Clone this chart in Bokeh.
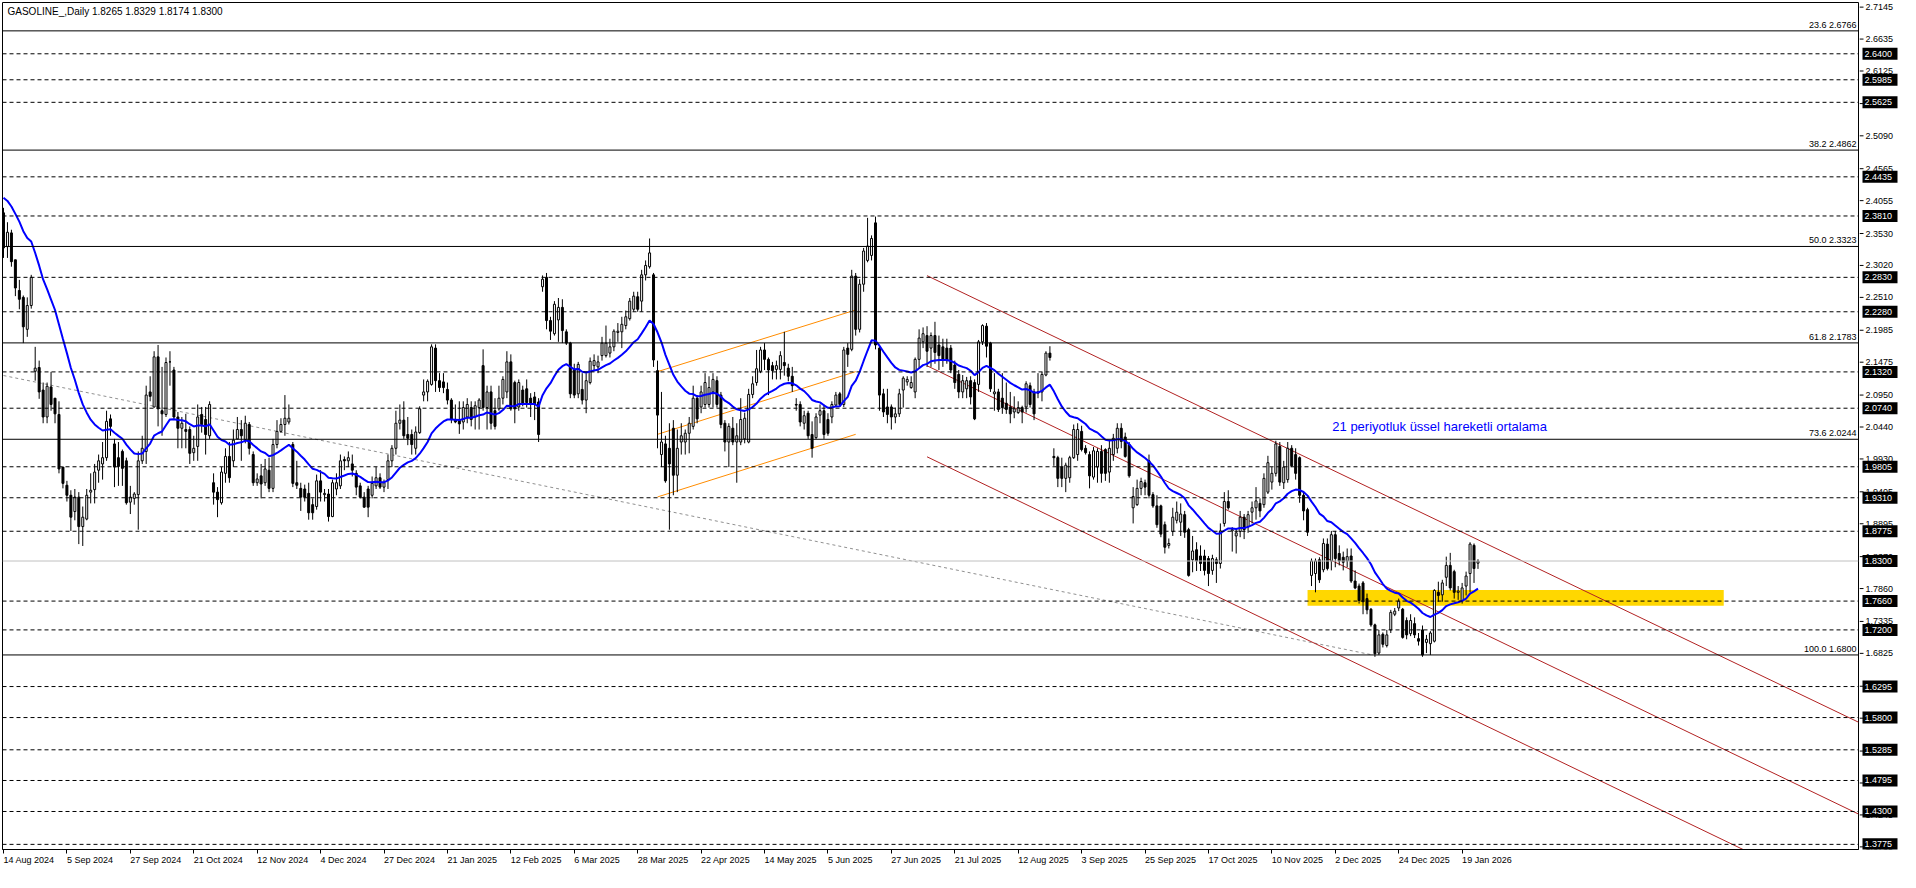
import numpy as np
from bokeh.plotting import figure
from bokeh.layouts import row
from bokeh.models import (ColumnDataSource, Range1d, FixedTicker, Span, Label)
from bokeh.core.properties import value
from bokeh.embed import file_html
from bokeh.resources import INLINE

# ---------------- data ----------------
opens = [
    2.386, 2.332, 2.354, 2.311, 2.262, 2.251, 2.200, 2.238, 2.133, 2.139,
    2.103, 2.060, 2.108, 2.090, 2.064, 1.980, 1.951, 1.935, 1.909, 1.932,
    1.885, 1.897, 1.940, 1.944, 1.975, 1.985, 1.995, 2.057, 2.017, 1.995,
    2.005, 1.990, 1.924, 1.930, 1.936, 1.990, 2.005, 2.100, 2.076, 2.156,
    2.070, 2.064, 2.148, 2.135, 2.060, 2.042, 2.040, 2.040, 2.003, 2.013,
    2.064, 2.056, 2.030, 1.955, 1.940, 1.923, 1.970, 1.997, 1.990, 2.025,
    2.040, 2.024, 2.048, 2.000, 1.955, 1.966, 1.955, 1.975, 1.946, 2.016,
    2.037, 2.048, 2.052, 2.016, 1.955, 1.946, 1.945, 1.938, 1.920, 1.917,
    1.958, 1.936, 1.937, 1.901, 1.945, 1.950, 1.992, 1.990, 1.985, 1.970,
    1.950, 1.932, 1.945, 1.935, 1.950, 1.963, 1.948, 1.960, 1.990, 2.010,
    2.050, 2.055, 2.032, 2.032, 2.010, 2.035, 2.095, 2.100, 2.112, 2.170,
    2.118, 2.116, 2.104, 2.087, 2.056, 2.056, 2.052, 2.060, 2.075, 2.060,
    2.075, 2.142, 2.075, 2.100, 2.070, 2.073, 2.090, 2.100, 2.148, 2.115,
    2.076, 2.103, 2.105, 2.090, 2.092, 2.084, 2.268, 2.283, 2.214, 2.193,
    2.215, 2.235, 2.196, 2.178, 2.135, 2.097, 2.104, 2.087, 2.115, 2.142,
    2.140, 2.158, 2.158, 2.162, 2.172, 2.195, 2.196, 2.206, 2.217, 2.232,
    2.252, 2.245, 2.287, 2.300, 2.287, 2.134, 2.000, 2.017, 2.010, 2.042,
    1.967, 2.020, 2.020, 2.034, 2.045, 2.090, 2.076, 2.080, 2.080, 2.100,
    2.118, 2.095, 2.050, 2.020, 2.042, 2.020, 2.020, 2.025, 2.020, 2.096,
    2.115, 2.133, 2.167, 2.152, 2.142, 2.136, 2.136, 2.147, 2.138, 2.125,
    2.080, 2.080, 2.050, 2.066, 2.032, 2.027, 2.063, 2.070, 2.056, 2.060,
    2.079, 2.097, 2.080, 2.170, 2.168, 2.285, 2.200, 2.272, 2.310, 2.318,
    2.370, 2.170, 2.097, 2.076, 2.076, 2.060, 2.065, 2.103, 2.116, 2.107,
    2.100, 2.152, 2.180, 2.190, 2.170, 2.190, 2.175, 2.172, 2.170, 2.170,
    2.143, 2.128, 2.100, 2.105, 2.118, 2.115, 2.112, 2.180, 2.205, 2.178,
    2.097, 2.100, 2.090, 2.082, 2.076, 2.068, 2.067, 2.075, 2.076, 2.110,
    2.100, 2.098, 2.100, 2.127, 2.162, 1.997, 1.995, 1.980, 1.962, 1.963,
    1.995, 2.000, 2.037, 2.010, 2.000, 1.964, 1.980, 2.005, 2.008, 1.972,
    2.000, 2.010, 2.042, 2.028, 2.016, 1.915, 1.920, 1.946, 1.955, 1.990,
    1.936, 1.918, 1.918, 1.888, 1.855, 1.877, 1.895, 1.892, 1.904, 1.880,
    1.832, 1.848, 1.838, 1.838, 1.834, 1.815, 1.832, 1.826, 1.890, 1.925,
    1.878, 1.870, 1.877, 1.900, 1.885, 1.908, 1.915, 1.922, 1.920, 1.940,
    1.956, 1.970, 2.013, 1.955, 1.960, 2.010, 2.000, 1.995, 1.935, 1.912,
    1.807, 1.810, 1.832, 1.816, 1.857, 1.830, 1.872, 1.842, 1.836, 1.830,
    1.838, 1.798, 1.790, 1.795, 1.770, 1.753, 1.728, 1.683, 1.713, 1.695,
    1.720, 1.745, 1.755, 1.753, 1.735, 1.714, 1.730, 1.706, 1.720, 1.700,
    1.698, 1.702, 1.780, 1.776, 1.804, 1.823, 1.813, 1.780, 1.766, 1.790,
    1.810, 1.855, 1.8265]

highs = [
    2.394, 2.371, 2.359, 2.311, 2.279, 2.254, 2.251, 2.287, 2.172, 2.150,
    2.115, 2.115, 2.132, 2.090, 2.085, 1.980, 1.958, 1.943, 1.945, 1.940,
    1.917, 1.945, 1.970, 1.985, 2.000, 2.020, 2.070, 2.064, 2.025, 2.020,
    2.008, 1.995, 1.950, 1.940, 2.005, 2.030, 2.110, 2.125, 2.165, 2.175,
    2.140, 2.155, 2.165, 2.140, 2.068, 2.060, 2.065, 2.045, 2.030, 2.080,
    2.076, 2.076, 2.085, 1.970, 1.948, 1.980, 2.010, 2.020, 2.040, 2.060,
    2.055, 2.062, 2.052, 2.005, 1.970, 1.985, 1.993, 1.995, 2.025, 2.055,
    2.058, 2.095, 2.080, 2.020, 1.990, 1.955, 1.952, 1.955, 1.930, 1.968,
    1.975, 1.945, 1.945, 1.960, 1.970, 2.000, 1.997, 2.005, 2.000, 1.975,
    1.955, 1.940, 1.950, 1.965, 1.980, 1.970, 1.960, 2.000, 2.015, 2.070,
    2.080, 2.085, 2.060, 2.040, 2.045, 2.077, 2.120, 2.120, 2.176, 2.176,
    2.130, 2.130, 2.115, 2.090, 2.080, 2.085, 2.085, 2.090, 2.085, 2.085,
    2.090, 2.168, 2.110, 2.110, 2.090, 2.110, 2.125, 2.165, 2.160, 2.118,
    2.120, 2.110, 2.120, 2.098, 2.100, 2.090, 2.286, 2.290, 2.220, 2.245,
    2.250, 2.248, 2.200, 2.180, 2.145, 2.148, 2.130, 2.130, 2.155, 2.160,
    2.158, 2.188, 2.206, 2.185, 2.200, 2.210, 2.220, 2.230, 2.250, 2.260,
    2.260, 2.295, 2.310, 2.345, 2.290, 2.150, 2.100, 2.030, 2.050, 2.055,
    2.040, 2.050, 2.040, 2.060, 2.110, 2.095, 2.110, 2.130, 2.125, 2.130,
    2.125, 2.100, 2.055, 2.050, 2.060, 2.050, 2.090, 2.067, 2.105, 2.125,
    2.167, 2.172, 2.178, 2.155, 2.148, 2.150, 2.165, 2.196, 2.145, 2.140,
    2.090, 2.085, 2.070, 2.070, 2.053, 2.066, 2.080, 2.080, 2.066, 2.085,
    2.100, 2.100, 2.172, 2.178, 2.295, 2.290, 2.280, 2.330, 2.378, 2.350,
    2.380, 2.175, 2.105, 2.105, 2.080, 2.075, 2.105, 2.125, 2.125, 2.125,
    2.155, 2.200, 2.203, 2.205, 2.195, 2.212, 2.190, 2.185, 2.185, 2.175,
    2.150, 2.135, 2.127, 2.124, 2.125, 2.120, 2.183, 2.208, 2.210, 2.180,
    2.130, 2.105, 2.130, 2.115, 2.100, 2.093, 2.085, 2.078, 2.117, 2.115,
    2.105, 2.130, 2.132, 2.165, 2.173, 2.010, 1.998, 1.995, 1.987, 1.998,
    2.048, 2.050, 2.046, 2.015, 2.005, 2.012, 2.010, 2.015, 2.010, 2.022,
    2.033, 2.050, 2.050, 2.035, 2.020, 1.948, 1.960, 1.963, 1.960, 2.000,
    1.940, 1.935, 1.920, 1.893, 1.866, 1.915, 1.925, 1.922, 1.910, 1.883,
    1.870, 1.860, 1.855, 1.848, 1.838, 1.840, 1.836, 1.890, 1.940, 1.943,
    1.884, 1.882, 1.910, 1.905, 1.910, 1.925, 1.948, 1.930, 1.970, 1.998,
    1.980, 2.022, 2.020, 1.990, 2.020, 2.015, 2.010, 1.997, 1.940, 1.915,
    1.834, 1.834, 1.836, 1.866, 1.866, 1.878, 1.878, 1.855, 1.845, 1.850,
    1.850, 1.815, 1.794, 1.798, 1.778, 1.755, 1.730, 1.720, 1.716, 1.720,
    1.752, 1.755, 1.770, 1.755, 1.740, 1.745, 1.740, 1.715, 1.727, 1.712,
    1.718, 1.785, 1.797, 1.800, 1.837, 1.843, 1.816, 1.790, 1.795, 1.813,
    1.860, 1.858, 1.8329]

lows = [
    2.314, 2.314, 2.300, 2.253, 2.232, 2.178, 2.188, 2.233, 2.118, 2.089,
    2.050, 2.050, 2.070, 2.050, 1.970, 1.946, 1.925, 1.878, 1.895, 1.857,
    1.854, 1.895, 1.922, 1.922, 1.955, 1.960, 1.990, 2.030, 1.948, 1.950,
    1.950, 1.920, 1.905, 1.920, 1.880, 1.985, 1.985, 2.085, 2.075, 2.045,
    2.030, 2.060, 2.110, 2.055, 2.010, 2.010, 2.010, 1.985, 1.990, 1.990,
    2.035, 2.000, 2.025, 1.920, 1.900, 1.920, 1.955, 1.955, 1.980, 2.024,
    1.990, 2.018, 2.000, 1.950, 1.950, 1.930, 1.950, 1.940, 1.940, 2.010,
    2.035, 2.030, 2.048, 1.948, 1.945, 1.910, 1.925, 1.896, 1.896, 1.912,
    1.925, 1.925, 1.893, 1.900, 1.935, 1.945, 1.975, 1.980, 1.965, 1.935,
    1.930, 1.915, 1.900, 1.930, 1.945, 1.945, 1.940, 1.945, 1.980, 2.000,
    2.040, 2.025, 2.015, 2.000, 2.000, 2.033, 2.085, 2.085, 2.110, 2.100,
    2.100, 2.098, 2.080, 2.050, 2.050, 2.033, 2.040, 2.050, 2.045, 2.040,
    2.040, 2.070, 2.040, 2.040, 2.040, 2.070, 2.080, 2.090, 2.070, 2.050,
    2.070, 2.077, 2.075, 2.060, 2.055, 2.020, 2.260, 2.200, 2.183, 2.190,
    2.180, 2.178, 2.175, 2.090, 2.090, 2.090, 2.080, 2.066, 2.112, 2.135,
    2.130, 2.150, 2.155, 2.155, 2.165, 2.180, 2.170, 2.200, 2.214, 2.228,
    2.228, 2.228, 2.278, 2.297, 2.140, 2.010, 1.980, 1.955, 1.880, 1.935,
    1.940, 2.000, 2.000, 2.002, 2.040, 2.050, 2.066, 2.075, 2.075, 2.075,
    2.075, 2.042, 2.005, 1.980, 2.015, 1.955, 2.015, 2.018, 2.018, 2.090,
    2.110, 2.130, 2.135, 2.095, 2.120, 2.120, 2.120, 2.126, 2.117, 2.100,
    2.070, 2.045, 2.040, 2.025, 1.995, 2.025, 2.050, 2.025, 2.030, 2.050,
    2.076, 2.076, 2.076, 2.140, 2.165, 2.190, 2.195, 2.260, 2.307, 2.310,
    2.168, 2.070, 2.060, 2.050, 2.040, 2.050, 2.060, 2.075, 2.110, 2.105,
    2.090, 2.137, 2.170, 2.140, 2.140, 2.145, 2.135, 2.140, 2.145, 2.130,
    2.105, 2.090, 2.090, 2.090, 2.080, 2.055, 2.100, 2.175, 2.155, 2.100,
    2.070, 2.068, 2.065, 2.065, 2.050, 2.058, 2.065, 2.050, 2.067, 2.075,
    2.055, 2.090, 2.085, 2.125, 2.150, 1.982, 1.948, 1.948, 1.940, 1.955,
    1.993, 1.990, 2.005, 2.000, 1.946, 1.960, 1.955, 1.955, 1.958, 1.955,
    1.990, 2.002, 2.010, 1.995, 1.963, 1.890, 1.918, 1.935, 1.935, 1.930,
    1.915, 1.883, 1.868, 1.842, 1.850, 1.870, 1.890, 1.870, 1.867, 1.805,
    1.812, 1.814, 1.814, 1.807, 1.790, 1.808, 1.795, 1.818, 1.885, 1.912,
    1.845, 1.842, 1.868, 1.865, 1.875, 1.890, 1.896, 1.900, 1.915, 1.937,
    1.944, 1.965, 1.950, 1.945, 1.955, 1.980, 1.960, 1.923, 1.895, 1.870,
    1.790, 1.780, 1.795, 1.812, 1.815, 1.815, 1.820, 1.823, 1.815, 1.820,
    1.795, 1.785, 1.762, 1.745, 1.745, 1.725, 1.677, 1.680, 1.692, 1.692,
    1.715, 1.742, 1.750, 1.706, 1.705, 1.710, 1.707, 1.695, 1.677, 1.683,
    1.680, 1.700, 1.765, 1.765, 1.790, 1.783, 1.770, 1.768, 1.762, 1.775,
    1.780, 1.795, 1.8174]

closes = [
    2.330, 2.355, 2.308, 2.266, 2.248, 2.204, 2.238, 2.283, 2.138, 2.100,
    2.060, 2.109, 2.080, 2.065, 1.977, 1.954, 1.935, 1.900, 1.932, 1.885,
    1.900, 1.935, 1.943, 1.972, 1.990, 1.995, 2.053, 2.045, 1.980, 1.981,
    1.978, 1.923, 1.932, 1.937, 1.990, 2.010, 2.095, 2.093, 2.156, 2.073,
    2.065, 2.147, 2.148, 2.060, 2.042, 2.050, 2.037, 2.002, 2.010, 2.060,
    2.048, 2.032, 2.080, 1.940, 1.928, 1.972, 1.997, 1.963, 2.023, 2.040,
    2.030, 2.050, 2.010, 1.955, 1.961, 1.953, 1.977, 1.946, 2.016, 2.037,
    2.048, 2.058, 2.058, 1.954, 1.951, 1.932, 1.932, 1.907, 1.907, 1.958,
    1.940, 1.938, 1.901, 1.955, 1.955, 1.990, 1.990, 1.995, 1.975, 1.948,
    1.932, 1.916, 1.916, 1.954, 1.963, 1.948, 1.955, 1.990, 2.010, 2.050,
    2.055, 2.030, 2.026, 2.016, 2.036, 2.073, 2.100, 2.117, 2.172, 2.118,
    2.107, 2.107, 2.087, 2.056, 2.052, 2.049, 2.075, 2.080, 2.056, 2.078,
    2.087, 2.075, 2.100, 2.050, 2.045, 2.090, 2.120, 2.148, 2.073, 2.073,
    2.115, 2.080, 2.083, 2.082, 2.080, 2.032, 2.280, 2.214, 2.197, 2.240,
    2.235, 2.198, 2.178, 2.097, 2.095, 2.144, 2.087, 2.118, 2.149, 2.150,
    2.148, 2.178, 2.178, 2.172, 2.197, 2.197, 2.208, 2.220, 2.245, 2.253,
    2.232, 2.287, 2.302, 2.322, 2.151, 2.063, 2.020, 1.958, 1.985, 1.967,
    2.010, 2.030, 2.034, 2.050, 2.090, 2.057, 2.100, 2.115, 2.107, 2.120,
    2.080, 2.048, 2.020, 2.045, 2.020, 2.030, 2.056, 2.058, 2.096, 2.113,
    2.137, 2.167, 2.152, 2.135, 2.134, 2.142, 2.158, 2.142, 2.125, 2.110,
    2.079, 2.052, 2.062, 2.030, 2.010, 2.060, 2.070, 2.032, 2.034, 2.080,
    2.095, 2.080, 2.167, 2.160, 2.285, 2.200, 2.272, 2.325, 2.333, 2.345,
    2.175, 2.095, 2.068, 2.064, 2.060, 2.065, 2.097, 2.122, 2.120, 2.115,
    2.152, 2.186, 2.193, 2.165, 2.190, 2.163, 2.158, 2.152, 2.150, 2.135,
    2.115, 2.100, 2.118, 2.118, 2.092, 2.057, 2.180, 2.206, 2.173, 2.105,
    2.100, 2.072, 2.075, 2.072, 2.065, 2.073, 2.075, 2.068, 2.113, 2.080,
    2.065, 2.100, 2.128, 2.162, 2.155, 1.995, 1.962, 1.962, 1.983, 1.995,
    2.040, 2.040, 2.008, 2.003, 1.966, 2.006, 2.005, 1.970, 1.970, 2.010,
    2.026, 2.042, 2.021, 1.997, 1.966, 1.933, 1.946, 1.957, 1.948, 1.935,
    1.918, 1.888, 1.873, 1.852, 1.858, 1.900, 1.908, 1.905, 1.876, 1.807,
    1.846, 1.830, 1.826, 1.815, 1.810, 1.834, 1.826, 1.878, 1.925, 1.915,
    1.880, 1.875, 1.900, 1.880, 1.904, 1.915, 1.926, 1.910, 1.962, 1.987,
    1.970, 2.017, 1.956, 1.980, 2.010, 1.982, 1.970, 1.935, 1.910, 1.876,
    1.830, 1.830, 1.800, 1.858, 1.818, 1.872, 1.834, 1.830, 1.828, 1.837,
    1.798, 1.787, 1.767, 1.765, 1.752, 1.728, 1.682, 1.712, 1.697, 1.712,
    1.748, 1.750, 1.766, 1.708, 1.712, 1.735, 1.712, 1.702, 1.680, 1.705,
    1.715, 1.783, 1.775, 1.795, 1.823, 1.787, 1.780, 1.782, 1.787, 1.806,
    1.857, 1.818, 1.8300]

date_labels = ["14 Aug 2024", "5 Sep 2024", "27 Sep 2024", "21 Oct 2024", "12 Nov 2024",
               "4 Dec 2024", "27 Dec 2024", "21 Jan 2025", "12 Feb 2025", "6 Mar 2025",
               "28 Mar 2025", "22 Apr 2025", "14 May 2025", "5 Jun 2025", "27 Jun 2025",
               "21 Jul 2025", "12 Aug 2025", "3 Sep 2025", "25 Sep 2025", "17 Oct 2025",
               "10 Nov 2025", "2 Dec 2025", "24 Dec 2025", "19 Jan 2026"]
bars_per_label = 16

price_ticks = [2.7145, 2.6635, 2.6125, 2.5605, 2.5090, 2.4565, 2.4055, 2.3530, 2.3020,
               2.2510, 2.1985, 2.1475, 2.0950, 2.0440, 1.9930, 1.9405, 1.8895, 1.8370,
               1.7860, 1.7335, 1.6825, 1.6300, 1.5790, 1.5265, 1.4755, 1.4245, 1.3735]

dashed_levels = [2.6400, 2.5985, 2.5625, 2.4435, 2.3810, 2.2830, 2.2280, 2.1320, 2.0740,
                 1.9805, 1.9310, 1.8775, 1.7660, 1.7200, 1.6295, 1.5800, 1.5285, 1.4795,
                 1.4300, 1.3775]
current_price = 1.8300

fib_ratios = ["23.6", "38.2", "50.0", "61.8", "73.6", "100.0"]
fib_levels = [2.6766, 2.4862, 2.3323, 2.1783, 2.0244, 1.6800]

ema_period = 21
ema_start = 2.41

red_x0 = [233, 233, 233]
red_y0 = [2.2857, 2.1418, 1.9964]
red_x1 = [468, 468, 468]
red_y1 = [1.5726, 1.4259, 1.2806]

orange_x0 = [165, 165, 165]
orange_y0 = [2.1324, 2.0323, 1.9323]
orange_x1 = [215, 215, 215]
orange_y1 = [2.2309, 2.1324, 2.0323]

trend_x = [0, 345]
trend_y = [2.1262, 1.6805]

zone_left, zone_right = [329], [434]
zone_bottom, zone_top = [1.7587], [1.7837]

ma_note = "21 periyotluk üssel hareketli ortalama"
ma_note_x, ma_note_y = 335.25, 2.0449
title_text = "GASOLINE_,Daily  1.8265 1.8329 1.8174 1.8300"

# ---------------- derived ----------------
n = len(closes)
idx = np.arange(n)
o = np.array(opens); c = np.array(closes)
h = np.maximum(np.array(highs), np.maximum(o, c))
l = np.minimum(np.array(lows), np.minimum(o, c))
k = 2.0 / (ema_period + 1)
ema = [ema_start]
for i in range(1, n):
    ema.append(ema[-1] + k * (c[i] - ema[-1]))

X0, X1 = -0.25, 468.0
Y0, Y1 = 1.3693, 2.7219

FONT = "Liberation Sans"
H = 872
TOP = 2
BOTTOM = 23
AXW = 41
MAINW = 1900 - AXW

yr = Range1d(Y0, Y1)
p = figure(width=MAINW, height=H, x_range=Range1d(X0, X1), y_range=yr,
           y_axis_location=None, output_backend="svg", toolbar_location=None,
           min_border_left=2, min_border_top=TOP, min_border_right=1, min_border_bottom=BOTTOM,
           background_fill_color="white", border_fill_color="white")
p.xgrid.visible = False
p.ygrid.visible = False
p.outline_line_color = "black"
p.outline_line_width = 1
p.outline_line_alpha = 1.0

# yellow zone
p.quad(left=zone_left, right=zone_right, bottom=zone_bottom, top=zone_top,
       fill_color="#FFD700", line_color=None)

# horizontal levels
for lv in dashed_levels:
    p.add_layout(Span(location=lv, dimension="width", line_color="black",
                      line_dash="4 3", line_width=1))
for lv in fib_levels:
    p.add_layout(Span(location=lv, dimension="width", line_color="black", line_width=1))
p.add_layout(Span(location=current_price, dimension="width", line_color="#C0C0C0", line_width=1))

# trend lines
p.line(trend_x, trend_y, line_color="#909090", line_dash="3 3", line_width=1)
p.segment(x0=red_x0, y0=red_y0, x1=red_x1, y1=red_y1, line_color="#B22222", line_width=1)
p.segment(x0=orange_x0, y0=orange_y0, x1=orange_x1, y1=orange_y1, line_color="#FF8C00", line_width=1)

# candles
src = ColumnDataSource(dict(
    x=idx, high=h, low=l,
    top=np.maximum(o, c), bottom=np.minimum(o, c),
    fill=["white" if cc >= oo else "black" for oo, cc in zip(o, c)]))
p.segment(x0="x", y0="low", x1="x", y1="high", source=src, line_color="black", line_width=1)
p.vbar(x="x", width=0.5, top="top", bottom="bottom", fill_color="fill",
       line_color="black", line_width=1, source=src)

# EMA
p.line(idx, ema, line_color="#0000FF", line_width=2)

# bottom date axis
xa = p.xaxis[0]
tick_bars = [i * bars_per_label for i in range(len(date_labels))]
xa.ticker = FixedTicker(ticks=tick_bars)
xa.major_label_overrides = {b: s for b, s in zip(tick_bars, date_labels)}
xa.major_label_orientation = -0.0001
xa.major_label_text_font = FONT
xa.major_label_text_font_size = "9px"
xa.major_label_text_color = "black"
xa.major_tick_out = 4
xa.major_tick_in = 0
xa.minor_tick_out = 0
xa.minor_tick_in = 0
xa.axis_line_color = "black"
xa.major_label_standoff = 6

# fibonacci labels
for r, lv in zip(fib_ratios, fib_levels):
    p.add_layout(Label(x=X1, y=lv, x_offset=-2, y_offset=1, text=f"{r} {lv:.4f}",
                       text_align="right", text_baseline="bottom", text_font=FONT,
                       text_font_size="9px", text_color="black"))

# title and note
p.add_layout(Label(x=X0, y=Y1, x_offset=5, y_offset=-3, text=title_text, text_align="left",
                   text_baseline="top", text_font=FONT, text_font_size="10px", text_color="black"))
p.add_layout(Label(x=ma_note_x, y=ma_note_y, text=ma_note, text_align="left",
                   text_baseline="middle", text_font=FONT, text_font_size="13px",
                   text_color="#0000FF"))

# ---------------- price scale panel (right) ----------------
q = figure(width=AXW, height=H, x_range=Range1d(0, AXW), y_range=yr,
           x_axis_location=None, y_axis_location=None, output_backend="svg",
           toolbar_location=None, min_border_left=0, min_border_right=0,
           min_border_top=TOP, min_border_bottom=BOTTOM,
           background_fill_color="white", border_fill_color="white")
q.xgrid.visible = False
q.ygrid.visible = False
q.outline_line_color = None

tick_src = ColumnDataSource(dict(y=price_ticks, t=[f"{v:.4f}" for v in price_ticks]))
q.segment(x0=0, y0="y", x1=4, y1="y", source=tick_src, line_color="black", line_width=1)
q.text(x=6, y="y", text="t", source=tick_src, text_font=value(FONT), text_font_size="9px",
       text_baseline="middle", text_align="left", text_color="black")

box_vals = dashed_levels + [current_price]
box_src = ColumnDataSource(dict(y=box_vals, t=[f"{v:.4f}" for v in box_vals]))
q.rect(x=20.5, y="y", width=35, height=12, height_units="screen", source=box_src,
       fill_color="black", line_color=None)
q.text(x=5, y="y", text="t", source=box_src, text_font=value(FONT), text_font_size="9px",
       text_baseline="middle", text_align="left", text_color="white")

layout = row(p, q)
open("out.html", "w").write(file_html(layout, INLINE))
